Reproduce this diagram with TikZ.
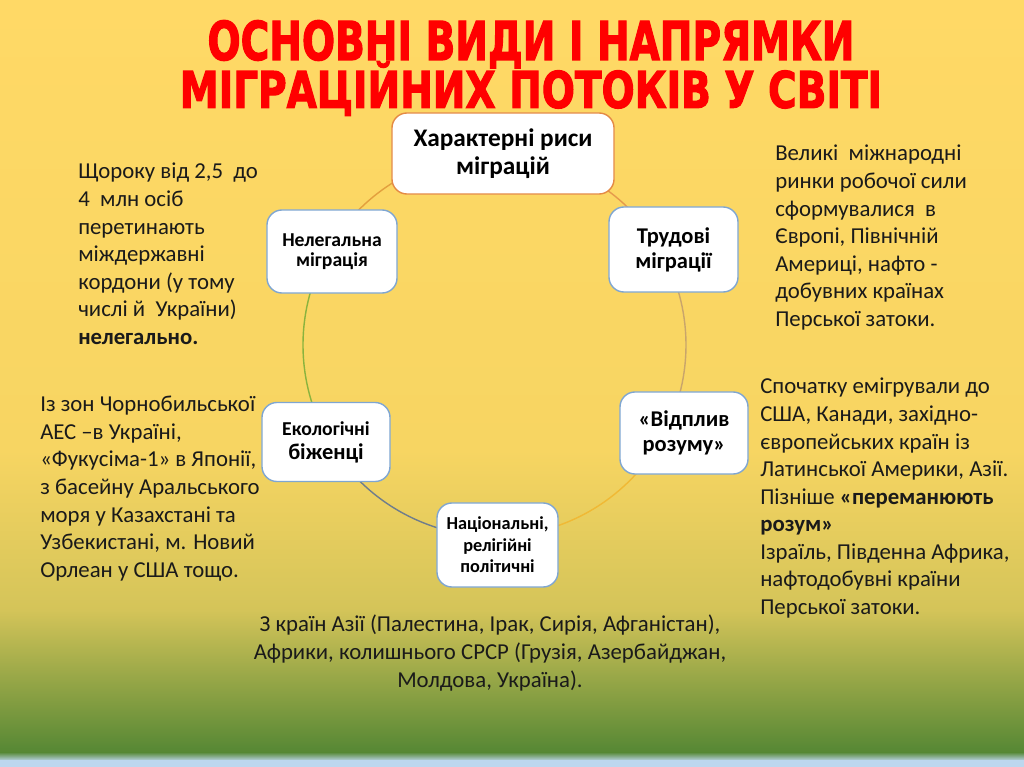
\documentclass[tikz,border=0pt]{standalone}
\usepackage{fontspec}
\setmainfont{Carlito}
\newfontfamily\titlefont[FakeBold=2.5]{DejaVu Sans Bold}
\usetikzlibrary{positioning,calc}
\definecolor{bgtop}{HTML}{FFD966}
\definecolor{bgmid}{HTML}{F7D562}
\definecolor{bgolive}{HTML}{D4C459}
\definecolor{bggreen}{HTML}{558734}
\definecolor{bgblue}{HTML}{BDD7EE}
\definecolor{titlered}{HTML}{FF0000}
\definecolor{boxblue}{HTML}{7FA6D2}
\definecolor{boxorange}{HTML}{E48A45}
\definecolor{arcA}{HTML}{E59A4C}
\definecolor{arcB}{HTML}{C9A56B}
\definecolor{arcC}{HTML}{F0B935}
\definecolor{arcD}{HTML}{6F7D8C}
\definecolor{arcE}{HTML}{8AB33E}
\definecolor{arcF}{HTML}{E3A03E}
\definecolor{textblack}{HTML}{1A1A1A}
\newcommand\headfont{\titlefont\fontsize{38}{34}\selectfont\lineskiplimit=-100pt\relax}

\begin{document}
\begin{tikzpicture}[x=0.025cm,y=-0.025cm,
  box/.style={draw=boxblue,line width=1pt,fill=white,rounded corners=0.375cm,align=center,inner sep=0pt,text=black},
  cyc/.style={line width=1pt},
  txt/.style={anchor=north west,align=left,inner sep=0pt,font=\fontsize{16.2}{19.6}\selectfont,text=textblack},
  headline/.style={anchor=north,align=center,inner sep=0pt,text=titlered,font=\headfont}]
% background
\shade[top color=bgtop,bottom color=bgmid] (0,0) rectangle (1024,451);
\shade[top color=bgmid,bottom color=bgolive] (0,450) rectangle (1024,611);
\shade[top color=bgolive,bottom color=bggreen] (0,610) rectangle (1024,753);
\shade[top color=bggreen,bottom color=bgblue] (0,752) rectangle (1024,761);
\fill[bgblue] (0,760) rectangle (1024,767);
\useasboundingbox (0,0) rectangle (1024,767);

% title
\node[headline] (title) at (531,20) {\scalebox{0.73}[1]{ОСНОВНІ ВИДИ І НАПРЯМКИ}\\\scalebox{0.73}[0.94]{МІГРАЦІЙНИХ ПОТОКІВ У СВІТІ}};

% cycle
\coordinate (O) at (494.5,345);
\draw[cyc,arcA] ([shift={(-87.5:191.5)}]O) arc[start angle=-87.5,end angle=-28,radius=191.5];
\draw[cyc,arcB] ([shift={(-28:191.5)}]O) arc[start angle=-28,end angle=25,radius=191.5];
\draw[cyc,arcC] ([shift={(25:191.5)}]O) arc[start angle=25,end angle=89,radius=191.5];
\draw[cyc,arcD] ([shift={(89:191.5)}]O) arc[start angle=89,end angle=150,radius=191.5];
\draw[cyc,arcE] ([shift={(150:191.5)}]O) arc[start angle=150,end angle=210,radius=191.5];
\draw[cyc,arcF] ([shift={(210:191.5)}]O) arc[start angle=210,end angle=272.5,radius=191.5];

% boxes
\node[box,draw=boxorange,minimum width=5.55cm,minimum height=2.025cm,font=\bfseries\fontsize{18}{19.5}\selectfont] (traits) at (503,153.5) {Характерні риси\\міграцій};
\node[box,minimum width=3.225cm,minimum height=2.125cm,font=\bfseries\fontsize{16}{17.8}\selectfont] (labour) at (673.5,249.5) {Трудові\\міграції};
\node[box,minimum width=3.2cm,minimum height=2.05cm,font=\bfseries\fontsize{16}{17.8}\selectfont] (brain) at (684,433) {«Відплив\\розуму»};
\node[box,minimum width=3.025cm,minimum height=2.1cm,font=\bfseries\fontsize{13}{15.3}\selectfont] (nation) at (497.5,545) {Національні,\\релігійні\\політичні};
\node[box,minimum width=3.2cm,minimum height=1.975cm,font=\bfseries\fontsize{14}{17}\selectfont] (eco) at (326,442) {Екологічні\\{\fontsize{16}{17}\selectfont біженці}};
\node[box,minimum width=3.25cm,minimum height=2.075cm,font=\bfseries\fontsize{14}{14.4}\selectfont] (illegal) at (332,251.5) {Нелегальна\\міграція};

% texts
\node[txt] (illegaltxt) at (78,163) {Щороку від 2,5~ до\\4~ млн осіб\\перетинають\\міждержавні\\кордони (у тому\\числі й~ України)\\\textbf{нелегально.}};
\node[txt] (labourtxt) at (775,145) {Великі~ міжнародні\\ринки робочої сили\\сформувалися~ в\\Європі, Північній\\Америці, нафто -\\добувних країнах\\Перської затоки.};
\node[txt] (ecotxt) at (40,396) {Із зон Чорнобильської\\АЕС –в Україні,\\«Фукусіма-1» в Японії,\\з басейну Аральського\\моря у Казахстані та\\Узбекистані, м. Новий\\Орлеан у США тощо.};
\node[txt] (braintxt) at (760,378) {Спочатку емігрували до\\США, Канади, західно-\\європейських країн із\\Латинської Америки, Азії.\\Пізніше \textbf{«переманюють}\\\textbf{розум»}\\Ізраїль, Південна Африка,\\нафтодобувні країни\\Перської затоки.};
\node[txt,anchor=north,align=center] (nationtxt) at (490,615) {З країн Азії (Палестина, Ірак, Сирія, Афганістан),\\Африки, колишнього СРСР (Грузія, Азербайджан,\\Молдова, Україна).};
\end{tikzpicture}
\end{document}
